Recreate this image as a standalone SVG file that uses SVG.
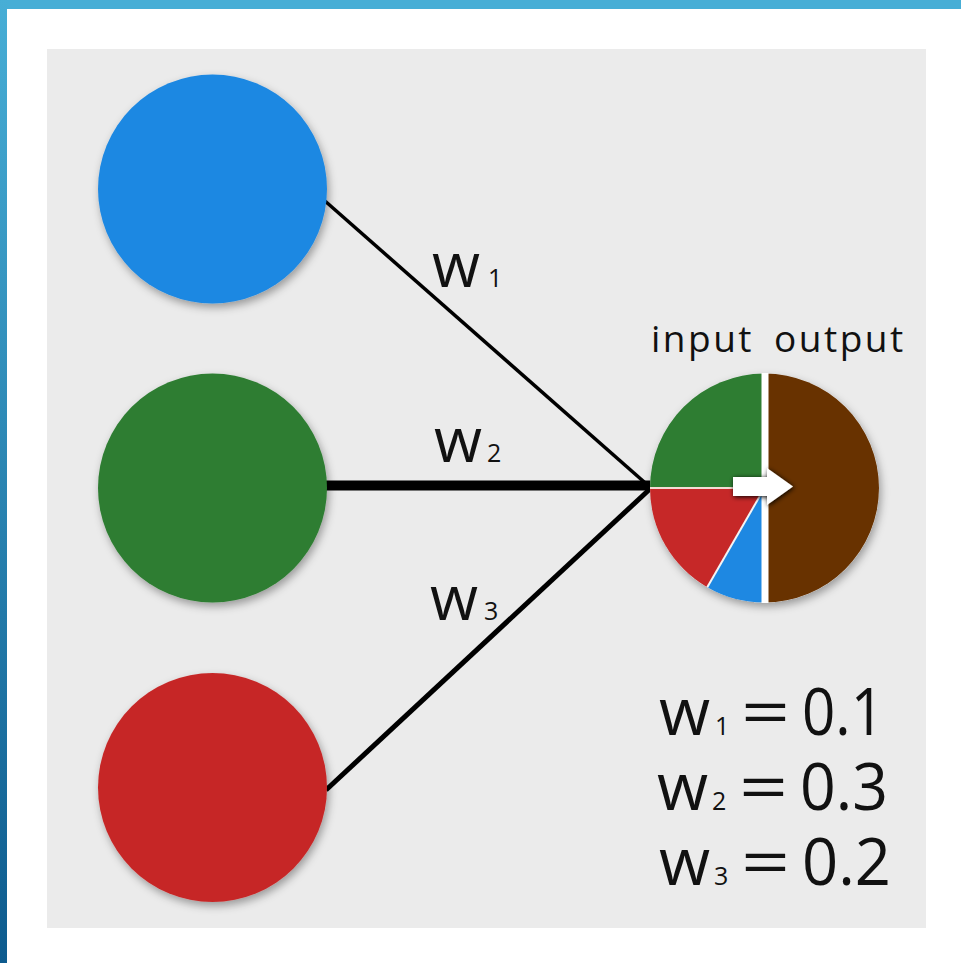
<svg xmlns="http://www.w3.org/2000/svg" width="961" height="963" viewBox="0 0 961 963">
<defs>
<linearGradient id="lbar" x1="0" y1="0" x2="0" y2="1">
<stop offset="0" stop-color="#47aed6"/>
<stop offset="1" stop-color="#0d5b8e"/>
</linearGradient>
<filter id="sh" x="-20%" y="-20%" width="140%" height="140%">
<feDropShadow dx="2" dy="4" stdDeviation="4" flood-color="#000" flood-opacity="0.35"/>
</filter>
<filter id="ash" x="-30%" y="-50%" width="160%" height="200%">
<feDropShadow dx="1" dy="1" stdDeviation="2.5" flood-color="#000" flood-opacity="1"/>
</filter>
</defs>
<style>
.lbl{font-family:"Open Sans","DejaVu Sans",sans-serif;fill:#111;}
.w{font-size:62px;}
.sub{font-size:25px;}
.eq{font-size:66px;}
.io{font-size:37px;letter-spacing:2.5px;}
.edge{stroke:#000;fill:none;stroke-linecap:butt;}
</style>
<rect x="0" y="0" width="961" height="963" fill="#ffffff"/>
<rect x="0" y="0" width="961" height="9" fill="#47aed6"/>
<rect x="0" y="0" width="7" height="963" fill="url(#lbar)"/>
<rect x="47" y="49" width="879" height="879" fill="#ebebeb"/>

<g id="connectors">
<line class="edge" x1="325" y1="201" x2="651" y2="488" stroke-width="3.5"/>
<line class="edge" x1="326" y1="485.5" x2="651" y2="485.5" stroke-width="10"/>
<line class="edge" x1="326" y1="790" x2="651" y2="488" stroke-width="5"/>
</g>

<g id="node-blue">
<circle cx="212.5" cy="189" r="114.5" fill="#1e88e2" filter="url(#sh)"/>
</g>
<g id="node-green">
<circle cx="212.5" cy="488" r="114.5" fill="#2e7d32" filter="url(#sh)"/>
</g>
<g id="node-red">
<circle cx="212.5" cy="787.5" r="114.5" fill="#c62828" filter="url(#sh)"/>
</g>

<g id="node-output">
<g filter="url(#sh)">
<circle cx="764.5" cy="488" r="114.5" fill="#ebebeb"/>
</g>
<path d="M764.5,488 L650,488 A114.5,114.5 0 0 1 764.5,373.5 Z" fill="#2e7d32"/>
<path d="M764.5,488 L650,488 A114.5,114.5 0 0 0 707.25,587.16 Z" fill="#c62828"/>
<path d="M764.5,488 L707.25,587.16 A114.5,114.5 0 0 0 764.5,602.5 Z" fill="#1e88e2"/>
<path d="M764.5,373.5 A114.5,114.5 0 0 1 764.5,602.5 Z" fill="#683200"/>
<line x1="650" y1="488" x2="764.5" y2="488" stroke="#f4dcd4" stroke-width="2"/>
<line x1="764.5" y1="488" x2="707.25" y2="587.16" stroke="#f4f4f4" stroke-width="2"/>
<rect x="761.5" y="373" width="7" height="230" fill="#ffffff"/>
<path d="M733,477 L767,477 L767,468 L793,486.5 L767,505 L767,496 L733,496 Z" fill="#ffffff" filter="url(#ash)"/>
<text class="lbl io" x="651" y="352">input</text>
<text class="lbl io" x="774" y="352">output</text>
</g>

<g id="label-w1"><text class="lbl w" x="432" y="287">w</text><text class="lbl sub" x="488" y="287">1</text></g>
<g id="label-w2"><text class="lbl w" x="434" y="462">w</text><text class="lbl sub" x="487" y="462">2</text></g>
<g id="label-w3"><text class="lbl w" x="430" y="620">w</text><text class="lbl sub" x="484" y="620">3</text></g>

<g id="equations">
<text class="lbl eq" x="659" y="735">w</text>
<text class="lbl sub" x="715" y="735">1</text>
<text class="lbl eq" x="0" y="0" transform="translate(741,735) scale(1.3,1)">=</text>
<text class="lbl eq" x="802" y="735" textLength="82" lengthAdjust="spacingAndGlyphs">0.1</text>

<text class="lbl eq" x="657" y="810">w</text>
<text class="lbl sub" x="712" y="810">2</text>
<text class="lbl eq" x="0" y="0" transform="translate(739,810) scale(1.3,1)">=</text>
<text class="lbl eq" x="800" y="810" textLength="88" lengthAdjust="spacingAndGlyphs">0.3</text>

<text class="lbl eq" x="659" y="885">w</text>
<text class="lbl sub" x="714" y="885">3</text>
<text class="lbl eq" x="0" y="0" transform="translate(741,885) scale(1.3,1)">=</text>
<text class="lbl eq" x="802" y="885" textLength="89" lengthAdjust="spacingAndGlyphs">0.2</text>
</g>
</svg>
